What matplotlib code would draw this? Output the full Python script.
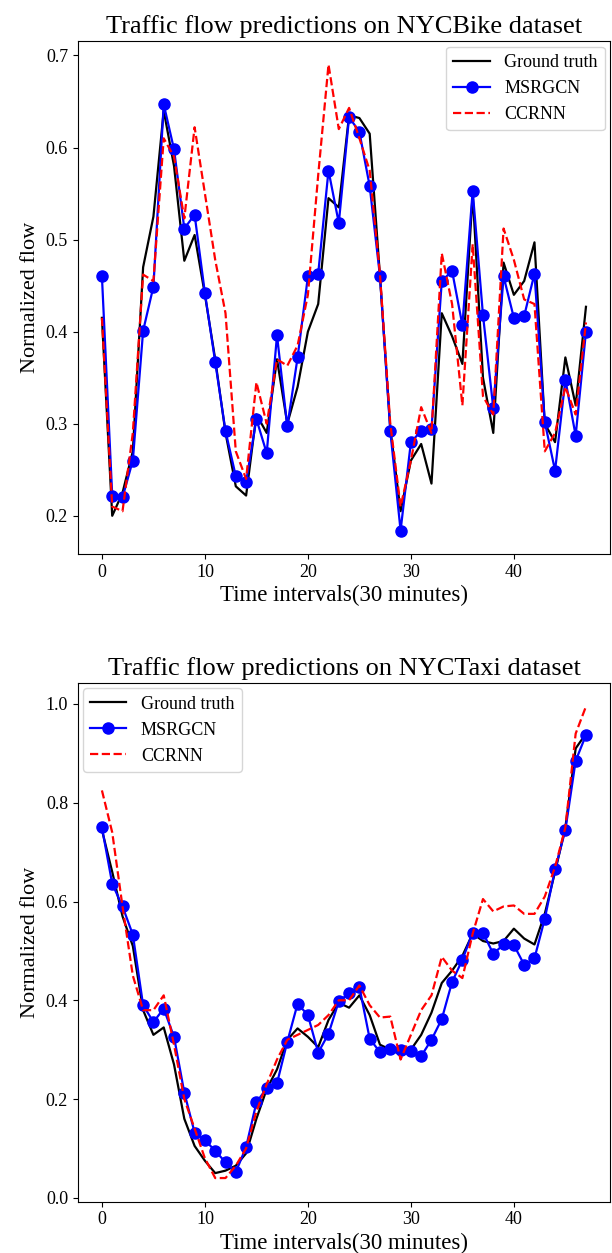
"""Traffic flow predictions: ground truth vs MSRGCN vs CCRNN on NYCBike and NYCTaxi."""

import matplotlib
matplotlib.use("Agg")
import matplotlib.pyplot as plt
import numpy as np

plt.rcParams["font.family"] = ["Liberation Serif", "DejaVu Serif"]

# NYCBike (top panel)
bike_truth = [0.415, 0.200, 0.225, 0.270, 0.470, 0.525, 0.640, 0.580, 0.477, 0.505,
              0.440, 0.370, 0.290, 0.232, 0.222, 0.310, 0.290, 0.370, 0.300, 0.340,
              0.400, 0.430, 0.545, 0.535, 0.635, 0.632, 0.615, 0.460, 0.295, 0.205,
              0.260, 0.278, 0.235, 0.420, 0.395, 0.365, 0.550, 0.350, 0.290, 0.475,
              0.440, 0.455, 0.497, 0.300, 0.280, 0.372, 0.320, 0.427]
bike_msrgcn = [0.460, 0.222, 0.220, 0.260, 0.401, 0.449, 0.647, 0.598, 0.512, 0.527,
               0.442, 0.367, 0.292, 0.243, 0.237, 0.305, 0.268, 0.396, 0.297, 0.372,
               0.460, 0.463, 0.575, 0.518, 0.633, 0.617, 0.558, 0.460, 0.292, 0.184,
               0.280, 0.292, 0.294, 0.455, 0.466, 0.407, 0.553, 0.418, 0.317, 0.460,
               0.415, 0.417, 0.463, 0.302, 0.249, 0.348, 0.287, 0.400]
bike_ccrnn = [0.415, 0.210, 0.205, 0.290, 0.462, 0.455, 0.610, 0.590, 0.523, 0.622,
              0.550, 0.478, 0.420, 0.270, 0.240, 0.345, 0.300, 0.370, 0.363, 0.385,
              0.440, 0.570, 0.690, 0.620, 0.643, 0.610, 0.575, 0.462, 0.300, 0.210,
              0.260, 0.318, 0.290, 0.485, 0.430, 0.320, 0.495, 0.330, 0.310, 0.512,
              0.478, 0.435, 0.430, 0.270, 0.290, 0.340, 0.310, 0.410]

# NYCTaxi (bottom panel)
taxi_truth = [0.745, 0.660, 0.570, 0.510, 0.380, 0.330, 0.345, 0.270, 0.160, 0.105,
              0.075, 0.050, 0.055, 0.065, 0.090, 0.160, 0.220, 0.260, 0.320, 0.343,
              0.326, 0.305, 0.360, 0.395, 0.385, 0.410, 0.370, 0.310, 0.300, 0.290,
              0.300, 0.330, 0.375, 0.435, 0.460, 0.490, 0.535, 0.520, 0.515, 0.520,
              0.545, 0.525, 0.513, 0.575, 0.660, 0.750, 0.910, 0.940]
taxi_msrgcn = [0.750, 0.636, 0.590, 0.533, 0.390, 0.356, 0.383, 0.326, 0.213, 0.132,
               0.117, 0.095, 0.072, 0.052, 0.103, 0.193, 0.222, 0.232, 0.316, 0.393,
               0.370, 0.294, 0.332, 0.398, 0.414, 0.427, 0.322, 0.295, 0.302, 0.300,
               0.298, 0.287, 0.320, 0.362, 0.437, 0.482, 0.537, 0.537, 0.494, 0.513,
               0.512, 0.472, 0.485, 0.565, 0.665, 0.745, 0.885, 0.937]
taxi_ccrnn = [0.825, 0.740, 0.590, 0.450, 0.380, 0.380, 0.410, 0.310, 0.200, 0.140,
              0.080, 0.040, 0.040, 0.065, 0.100, 0.175, 0.230, 0.280, 0.320, 0.330,
              0.340, 0.350, 0.370, 0.400, 0.400, 0.430, 0.390, 0.365, 0.367, 0.280,
              0.330, 0.380, 0.410, 0.488, 0.460, 0.445, 0.535, 0.605, 0.580, 0.590,
              0.592, 0.575, 0.575, 0.610, 0.670, 0.750, 0.940, 0.995]

panels = [
    ("NYCBike", bike_truth, bike_msrgcn, bike_ccrnn, "upper right"),
    ("NYCTaxi", taxi_truth, taxi_msrgcn, taxi_ccrnn, "upper left"),
]

fig = plt.figure(figsize=(6.12, 12.53), dpi=100)
axes = [
    fig.add_axes([0.127, 0.558, 0.870, 0.409]),
    fig.add_axes([0.127, 0.041, 0.870, 0.414]),
]

for ax, (name, truth, msrgcn, ccrnn, loc) in zip(axes, panels):
    t = np.arange(len(truth))
    ax.plot(t, truth, color="black", linewidth=1.6, label="Ground truth")
    ax.plot(t, msrgcn, color="blue", linewidth=1.6, marker="o", markersize=8,
            label="MSRGCN")
    ax.plot(t, ccrnn, color="red", linestyle="--", linewidth=1.6, label="CCRNN")
    ax.set_title(f"Traffic flow predictions on {name} dataset", fontsize=19)
    ax.set_xlabel("Time intervals(30 minutes)", fontsize=16.5, labelpad=3)
    ax.set_ylabel("Normalized flow", fontsize=16)
    ax.tick_params(labelsize=13)
    ax.set_xticks([0, 10, 20, 30, 40])
    ax.legend(loc=loc, fontsize=13, borderaxespad=0.3)

axes[0].set_yticks([0.2, 0.3, 0.4, 0.5, 0.6, 0.7])
axes[1].set_yticks([0.0, 0.2, 0.4, 0.6, 0.8, 1.0])

fig.savefig("out.png", dpi=100)
